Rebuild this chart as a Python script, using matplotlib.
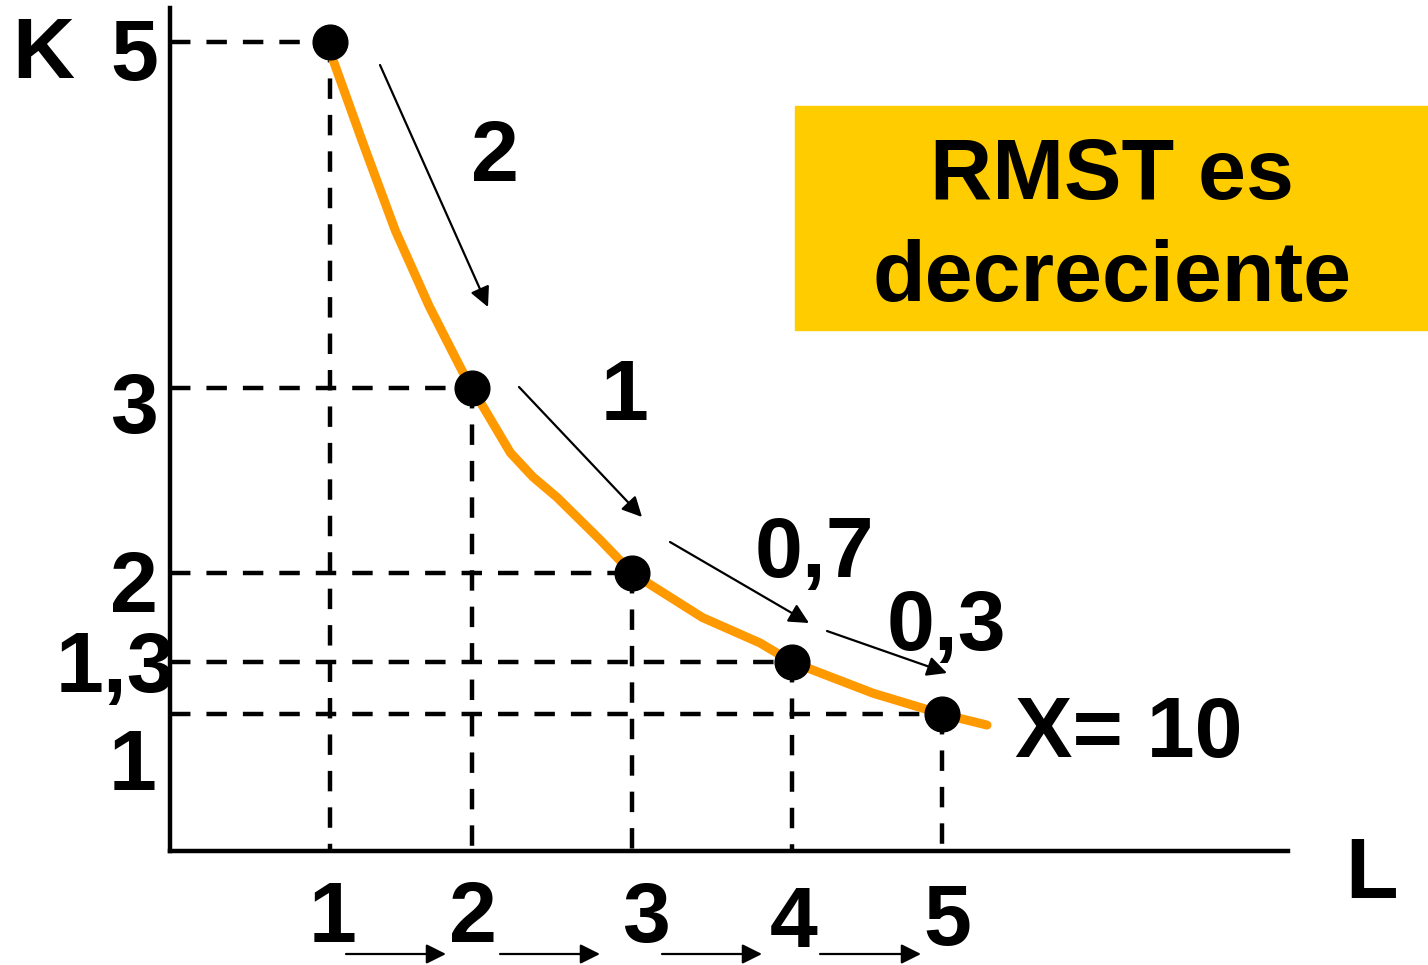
import numpy as np
import matplotlib
matplotlib.use("Agg")
import matplotlib.pyplot as plt
from matplotlib.patches import Rectangle

# isocuanta X = 10: combinaciones de trabajo (L) y capital (K)
L = [1, 2, 3, 4, 5]
K = [5, 3, 2, 1.3, 1]

# trazo de la curva naranja
CURVE_L = [1.00, 1.02, 1.23, 1.46, 1.70, 1.93, 2.00, 2.24, 2.38, 2.53, 2.80, 3.00,
           3.44, 3.80, 4.00, 4.54, 5.00, 5.30]
CURVE_K = [5.00, 4.90, 4.42, 3.91, 3.47, 3.10, 3.00, 2.65, 2.52, 2.41, 2.18, 2.00,
           1.65, 1.45, 1.30, 1.12, 1.00, 0.935]

W, H = 1428, 965
ORANGE = "#FF9900"
GOLD = "#FFCC00"

# el dibujo es esquemático: los ejes no son lineales
L_REF = [-2, 0, 1, 2, 3, 4, 5, 6, 9]
L_PX = [-120, 180, 330, 472, 632, 792, 942, 1092, 1542]
K_REF = [-3, 0, 1, 1.3, 2, 3, 5, 6, 9]
K_PX = [1394, 884, 714, 662, 573, 388, 42, -131, -650]   # desde arriba


def fx(v):
    return np.interp(v, L_REF, L_PX)


def fx_inv(p):
    return np.interp(p, L_PX, L_REF)


def fy(v):
    return -np.interp(v, K_REF, K_PX)


def fy_inv(p):
    return np.interp(-np.asarray(p), K_PX[::-1], K_REF[::-1])


def fmt(v):
    return f"{v:g}".replace(".", ",")


plt.rcParams["font.family"] = ["Liberation Sans", "DejaVu Sans"]
fig = plt.figure(figsize=(W / 100, H / 100), dpi=100)
ax = fig.add_axes([0, 0, 1, 1])
ax.set_xscale("function", functions=(fx, fx_inv))
ax.set_yscale("function", functions=(fy, fy_inv))

L_AX = float(fx_inv(170))
K_AX = float(fy_inv(-851))

# líneas punteadas hasta los ejes
dash = dict(color="black", lw=3.2, linestyle=(0, (4.6, 3.6)), zorder=1)
for l, k in zip(L, K):
    ax.plot([L_AX, l], [k, k], **dash)
    ax.plot([l, l], [k, K_AX], **dash)

ax.plot(CURVE_L, CURVE_K, color=ORANGE, lw=6.5, solid_capstyle="round",
        solid_joinstyle="round", zorder=2)
ax.plot(L, K, "o", color="black", ms=25, zorder=3)

# ejes
for s in ["top", "right"]:
    ax.spines[s].set_visible(False)
ax.spines["left"].set_position(("data", L_AX))
ax.spines["left"].set_bounds(K_AX, float(fy_inv(-8)))
ax.spines["bottom"].set_position(("data", K_AX))
ax.spines["bottom"].set_bounds(L_AX, float(fx_inv(1288)))
for s in ["left", "bottom"]:
    ax.spines[s].set_linewidth(3.2)
ax.set_xticks([])
ax.set_yticks([])
ax.set_xlim(float(fx_inv(0)), float(fx_inv(W)))
ax.set_ylim(float(fy_inv(-H)), float(fy_inv(0)))
ax.patch.set_alpha(0)


def label(x, y, s, size=62):
    fig.text(x / W, 1 - y / H, s, ha="center", va="baseline",
             fontsize=size, fontweight="bold")


label(43, 78, "K")
label(1372, 898, "L")
label(1129, 757, "X= 10")

# valores de los ejes
for k, (x, y) in zip(K, [(134, 80), (134, 433), (134, 612), (115, 692), (133, 790)]):
    label(x, y, fmt(k))
for l, (x, y) in zip(L, [(333, 942), (473, 942), (646, 942), (794, 947), (947, 945)]):
    label(x, y, fmt(l))

# caída de K en cada paso
dK = -np.diff(K)
for d, (x, y) in zip(dK, [(495, 181), (625, 420), (814, 577), (946, 650)]):
    label(x, y, fmt(round(d, 2)))

arrows = [((380, 65), (488, 307)), ((519, 387), (642, 517)),
          ((670, 542), (809, 623)), ((827, 631), (947, 673)),
          ((346, 954), (446, 954)), ((500, 954), (600, 954)),
          ((662, 954), (762, 954)), ((820, 954), (921, 954))]
for (x0, y0), (x1, y1) in arrows:
    ax.annotate("", xy=(x1, H - y1), xytext=(x0, H - y0),
                xycoords="figure pixels", textcoords="figure pixels",
                arrowprops=dict(arrowstyle="-|>,head_length=0.6,head_width=0.3",
                                color="black", lw=1.6, mutation_scale=20,
                                shrinkA=0, shrinkB=0))

# recuadro
fig.add_artist(Rectangle((795 / W, 1 - 330 / H), (W - 795) / W, 224 / H,
                         transform=fig.transFigure, color=GOLD, zorder=0))
label(1112, 199, "RMST es")
label(1112, 301, "decreciente")

fig.savefig("out.png", dpi=100)
